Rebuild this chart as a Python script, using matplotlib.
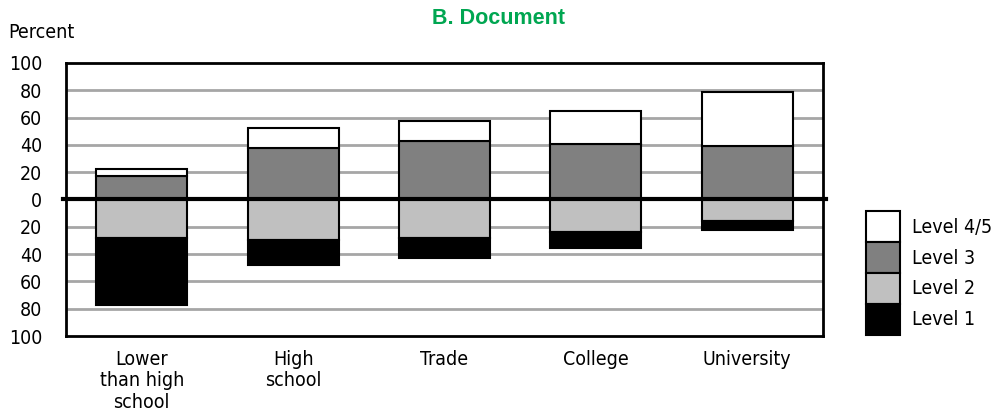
import matplotlib
matplotlib.use("Agg")
import matplotlib.pyplot as plt
import numpy as np
from matplotlib.patches import Patch

# ======== Data (percent) ========
categories = ["Lower\nthan high\nschool", "High\nschool", "Trade", "College", "University"]
level3 = [17.5, 38, 42.5, 41, 39]
level45 = [4.5, 14.5, 15, 24, 40]
level2 = [28, 30, 28.5, 24, 15.5]
level1 = [49, 18, 14, 11.5, 6.5]

ticks = [-100, -80, -60, -40, -20, 0, 20, 40, 60, 80, 100]

# ======== Style ========
plt.rcParams['font.family'] = ['DejaVu Sans']
plt.rcParams['font.stretch'] = 'condensed'
fs = 14
c_l45, c_l3, c_l2, c_l1 = 'white', '#808080', '#c0c0c0', 'black'
green = '#00a651'

fig = plt.figure(figsize=(9.93, 4.16), dpi=100)
ax = fig.add_axes([0.0665, 0.1923, 0.7623, 0.6563])

x = np.arange(len(categories))
w = 0.6
lw = 1.5

l3 = np.array(level3)
l45 = np.array(level45)
l2 = np.array(level2)
l1 = np.array(level1)

# gridlines
for t in ticks:
    if t not in (0, -100, 100):
        ax.axhline(t, color='#a6a6a6', lw=2, zorder=0)

ax.bar(x, l3, w, color=c_l3, edgecolor='black', lw=lw, zorder=2)
ax.bar(x, l45, w, bottom=l3, color=c_l45, edgecolor='black', lw=lw, zorder=2)
ax.bar(x, -l2, w, color=c_l2, edgecolor='black', lw=lw, zorder=2)
ax.bar(x, -l1, w, bottom=-l2, color=c_l1, edgecolor='black', lw=lw, zorder=2)

ax.plot([-0.52, 4.52], [0, 0], color='black', lw=3, zorder=3, clip_on=False)

ax.set_xlim(-0.5, 4.5)
ax.set_ylim(-100, 100)
ax.set_yticks(ticks)
ax.set_yticklabels([str(abs(t)) for t in ticks], fontsize=fs)
ax.set_xticks(x)
ax.set_xticklabels(categories, fontsize=fs, linespacing=1.17, va='top')
ax.tick_params(length=0)
ax.tick_params(axis='x', pad=10)
ax.tick_params(axis='y', pad=17)
for s in ax.spines.values():
    s.set_linewidth(2)
    s.set_color('black')

fig.text(8 / 993, 1 - 33 / 416, "Percent", fontsize=fs, va='center', ha='left')
fig.text(498 / 993, 1 - 19 / 416, "B. Document", fontsize=15.5, color=green,
         fontweight='bold', family=['Liberation Sans', 'DejaVu Sans'], fontstretch='normal',
         ha='center', va='center')

# Legend
handles = [
    Patch(facecolor=c_l45, edgecolor='black', lw=lw, label='Level 4/5'),
    Patch(facecolor=c_l3, edgecolor='black', lw=lw, label='Level 3'),
    Patch(facecolor=c_l2, edgecolor='black', lw=lw, label='Level 2'),
    Patch(facecolor=c_l1, edgecolor='black', lw=lw, label='Level 1'),
]
fig.legend(handles=handles, loc='upper left', bbox_to_anchor=(866 / 993, 1 - 211 / 416),
           frameon=False, fontsize=fs, handlelength=1.75, handleheight=2.07,
           labelspacing=0, handletextpad=0.6, borderpad=0, borderaxespad=0)

plt.savefig("out.png", dpi=100)
